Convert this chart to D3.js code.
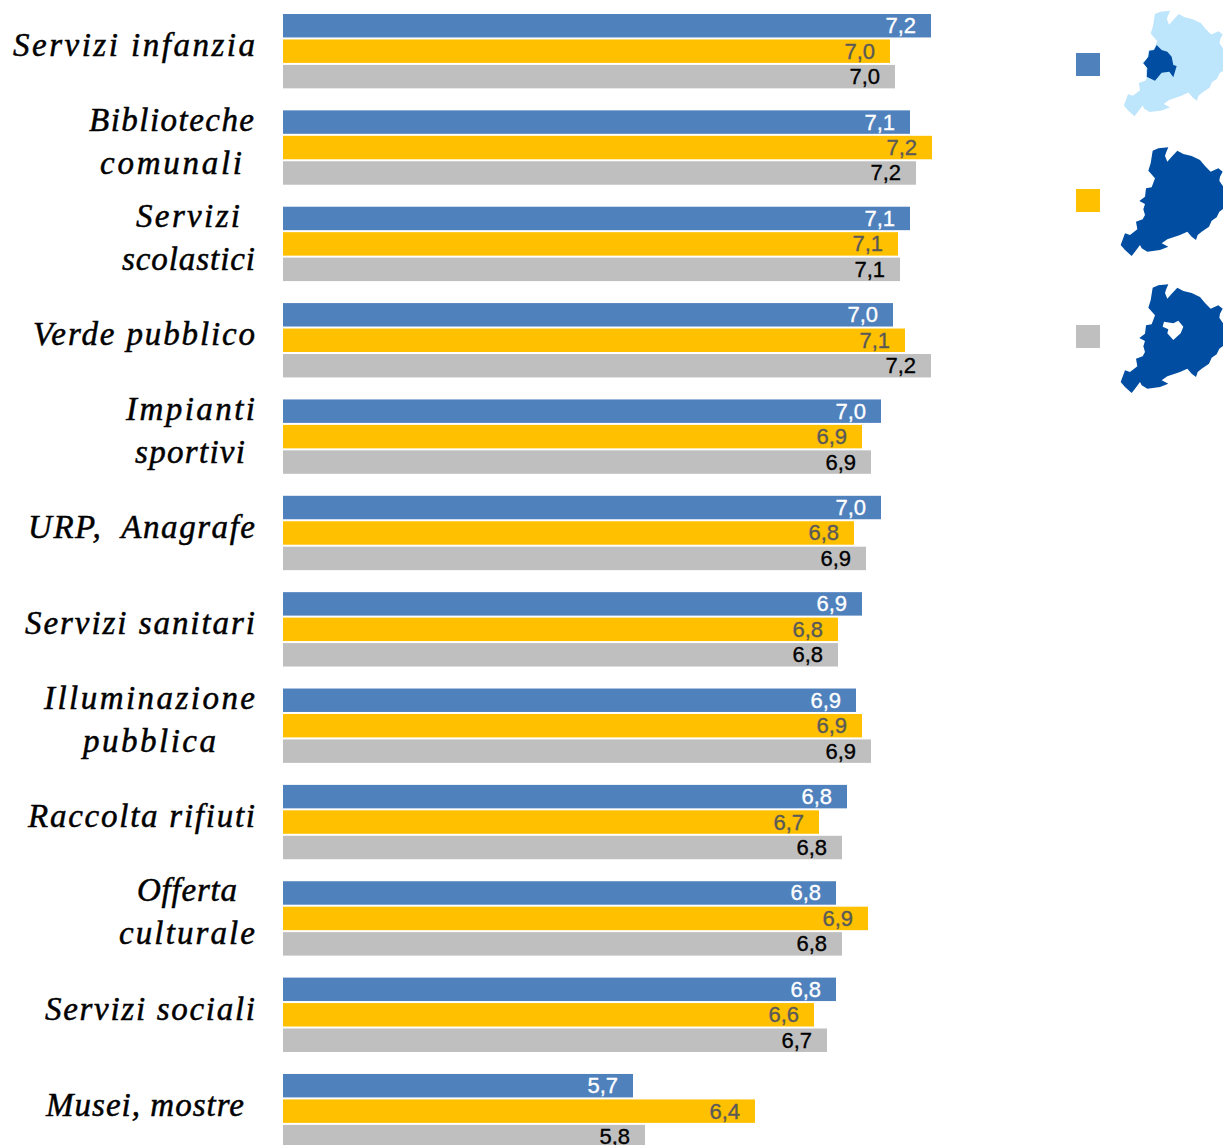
<!DOCTYPE html>
<html><head><meta charset="utf-8">
<script src="https://cdn.jsdelivr.net/npm/d3@7"></script>
<style>html,body{margin:0;padding:0;background:#fff;overflow:hidden}svg{display:block}</style>
</head><body><div id="chart"></div>
<script>
const categories = ["Servizi infanzia","Biblioteche comunali","Servizi scolastici","Verde pubblico","Impianti sportivi","URP, Anagrafe","Servizi sanitari","Illuminazione pubblica","Raccolta rifiuti","Offerta culturale","Servizi sociali","Musei, mostre"];
const labelLines = [["Servizi infanzia"],["Biblioteche","comunali"],["Servizi","scolastici"],["Verde pubblico"],["Impianti","sportivi"],["URP,  Anagrafe"],["Servizi sanitari"],["Illuminazione","pubblica"],["Raccolta rifiuti"],["Offerta","culturale"],["Servizi sociali"],["Musei, mostre"]];
const labelExtents = [[[13,255]],[[89,254],[100,242]],[[136,240],[122,255]],[[33,255]],[[126,255],[135,245]],[[28,255]],[[25,255]],[[44,255],[83,216]],[[28,255]],[[137,237],[119,255]],[[45,255]],[[46,244]]];
const seriesNames = ["a","b","c"];
const seriesA = [7.24,7.135,7.135,7.05,6.99,6.99,6.895,6.865,6.82,6.765,6.765,5.75];
const seriesB = [7.035,7.245,7.075,7.11,6.895,6.855,6.775,6.895,6.68,6.925,6.655,6.36];
const seriesC = [7.06,7.165,7.085,7.24,6.94,6.915,6.775,6.94,6.795,6.795,6.72,5.81];
const labelsA = ["7,2","7,1","7,1","7,0","7,0","7,0","6,9","6,9","6,8","6,8","6,8","5,7"];
const labelsB = ["7,0","7,2","7,1","7,1","6,9","6,8","6,8","6,9","6,7","6,9","6,6","6,4"];
const labelsC = ["7,0","7,2","7,1","7,2","6,9","6,9","6,8","6,9","6,8","6,8","6,7","5,8"];
const barColors = ["#4F81BD","#FFC000","#BFBFBF"];
const valueColors = ["#FFFFFF","#595959","#000000"];
const regionOutline = [[278,62],[295,55],[325,52],[318,68],[315,78],[322,95],[335,80],[352,62],[370,72],[395,78],[420,90],[435,108],[452,125],[475,115],[488,125],[480,140],[478,152],[490,170],[492,235],[478,245],[470,262],[455,272],[447,290],[425,305],[413,315],[408,330],[395,320],[382,305],[360,315],[340,322],[322,328],[305,340],[325,350],[300,360],[262,365],[245,355],[240,345],[225,365],[215,378],[195,360],[182,345],[195,310],[210,315],[232,298],[228,275],[248,268],[255,255],[250,238],[255,222],[238,213],[255,200],[258,175],[275,172],[285,145],[265,122],[272,100]];
const centerOutline = [[290,135],[305,150],[322,155],[335,170],[340,195],[350,198],[340,232],[328,215],[305,218],[285,242],[260,230],[262,205],[250,190],[265,170],[268,152],[282,150]];
const holeOutline = [[312,155],[340,160],[355,152],[370,170],[362,190],[340,210],[322,190],[325,178],[308,170]];

const W = 1223, H = 1145;
const svg = d3.select("#chart").append("svg").attr("width",W).attr("height",H).attr("viewBox",[0,0,W,H]);
svg.append("defs").append("filter").attr("id","soft").append("feGaussianBlur").attr("stdDeviation",0.6);

const x = d3.scaleLinear().domain([4,7.24]).range([283,931]);
const step = 96.36, gap = 22;
const y = d3.scaleBand().domain(categories).range([14,14+12*step-gap]).paddingInner(gap/step).paddingOuter(0);
const yi = d3.scaleBand().domain(seriesNames).range([0,y.bandwidth()]).paddingInner(2/25.4).paddingOuter(0);

const rows = categories.map((c,i)=>({c,i,vals:[seriesA[i],seriesB[i],seriesC[i]],labs:[labelsA[i],labelsB[i],labelsC[i]]}));
const groups = svg.selectAll("g.row").data(rows).join("g").attr("class","row").attr("transform",d=>`translate(0,${y(d.c)})`);

groups.each(function(d){
  const g = d3.select(this);
  seriesNames.forEach((s,k)=>{
    g.append("rect").attr("x",x(4)).attr("y",yi(s)).attr("width",x(d.vals[k])-x(4)).attr("height",yi.bandwidth()).attr("fill",barColors[k]);
    g.append("text").attr("x",x(d.vals[k])-15).attr("y",yi(s)+yi.bandwidth()/2+7.5)
      .attr("text-anchor","end").attr("fill",valueColors[k])
      .attr("stroke",valueColors[k]).attr("stroke-width",0.35)
      .style("font-family","'Liberation Sans',Arial,sans-serif").style("font-size","22px").text(d.labs[k]);
  });
  const lines = labelLines[d.i], ext = labelExtents[d.i], cy = y.bandwidth()/2;
  const offs = lines.length===1 ? [-5] : [-27,16];
  lines.forEach((t,j)=>{
    g.append("text").attr("x",ext[j][0]).attr("y",cy+offs[j]+10)
      .attr("textLength",ext[j][1]-ext[j][0]).attr("lengthAdjust","spacing")
      .attr("xml:space","preserve").style("white-space","pre")
      .attr("fill","#000").attr("stroke","#000").attr("stroke-width",0.5)
      .style("font-family","'Liberation Serif',serif").style("font-style","italic").style("font-size","33px").text(t);
  });
});

// legend keys with region maps
const line = d3.line().curve(d3.curveLinear);
const legend = [
  {k:0,kx:1076,ky:53,ox:1065,oy:-6,s:0.97},
  {k:1,kx:1076,ky:189,ox:1060,oy:130,s:1},
  {k:2,kx:1076,ky:325,ox:1060,oy:267,s:1}
];
const pts = (arr,l)=>arr.map(p=>[l.ox+p[0]/3*l.s,l.oy+p[1]/3*l.s]);
legend.forEach(l=>{
  svg.append("rect").attr("x",l.kx).attr("y",l.ky).attr("width",24).attr("height",23).attr("fill",barColors[l.k]);
  const path = svg.append("path").attr("fill",l.k===0?"#BDE5FB":"#004EA2").attr("fill-rule","evenodd").attr("filter","url(#soft)");
  let dStr = line(pts(regionOutline,l))+"Z";
  if(l.k===2) dStr += line(pts(holeOutline,{...l,oy:270}))+"Z";
  path.attr("d",dStr);
  if(l.k===0){
    svg.append("path").attr("fill","#004EA2").attr("filter","url(#soft)").attr("d",line(centerOutline.map(p=>[1060+p[0]/3,p[1]/3]))+"Z");
  }
});
</script></body></html>
